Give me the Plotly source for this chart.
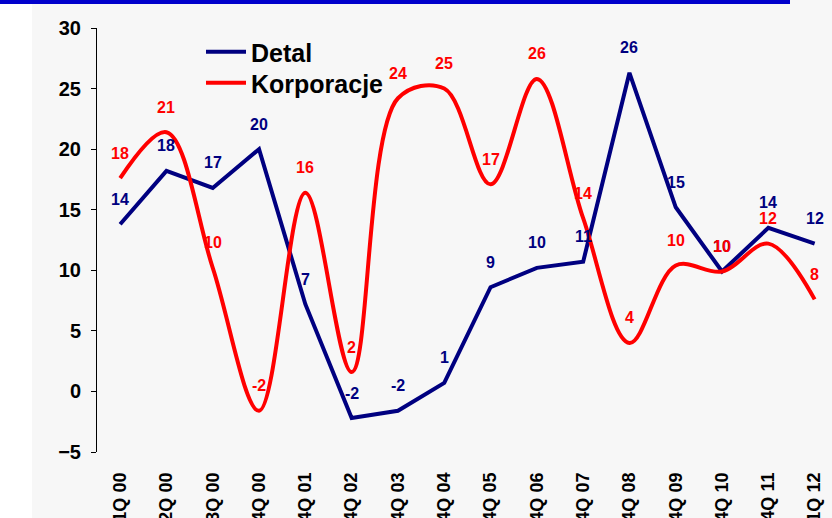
import plotly.graph_objects as go

# Quarterly growth, Detal vs Korporacje (%)
quarters = ["1Q 00", "2Q 00", "3Q 00", "4Q 00", "4Q 01", "4Q 02", "4Q 03", "4Q 04",
            "4Q 05", "4Q 06", "4Q 07", "4Q 08", "4Q 09", "4Q 10", "4Q 11", "1Q 12"]
detal = [13.8, 18.2, 16.8, 20.0, 7.2, -2.2, -1.6, 0.7,
         8.6, 10.2, 10.7, 26.3, 15.2, 9.9, 13.5, 12.2]
korporacje = [17.6, 21.4, 10.2, -1.6, 16.4, 1.6, 24.2, 25.0,
              17.1, 25.8, 14.3, 4.0, 10.4, 9.9, 12.2, 7.6]
y_ticks = [-5, 0, 5, 10, 15, 20, 25, 30]

NAVY = "#000080"
RED = "#ff0000"
BG = "#f7f7f7"
FONT = "Arial, Liberation Sans, sans-serif"

W, H = 832, 518
ML, MR, MT, MB = 97, 0, 28, 66
PW, PH = W - ML - MR, H - MT - MB

fig = go.Figure()
fig.add_trace(go.Scatter(x=quarters, y=detal, name="Detal", mode="lines",
                         legend="legend",
                         line=dict(color=NAVY, width=4)))
fig.add_trace(go.Scatter(x=quarters, y=korporacje, name="Korporacje", mode="lines",
                         legend="legend2",
                         line=dict(color=RED, width=4, shape="spline", smoothing=1.0)))

# value labels above each point
annotations = []
for series, color in ((detal, NAVY), (korporacje, RED)):
    for q, v in zip(quarters, series):
        annotations.append(dict(x=q, y=v, xref="x", yref="y", text=f"{v:.0f}",
                                showarrow=False, yshift=25,
                                font=dict(family=FONT, size=16, color=color, weight="bold")))


def px_x(px):
    return (px - ML) / PW


def px_y(py):
    return 1 - (py - MT) / PH


shapes = [
    # white strip on the left
    dict(type="rect", xref="paper", yref="paper", x0=px_x(-2), x1=px_x(32),
         y0=px_y(H + 2), y1=px_y(-2), fillcolor="white", line_width=0, layer="below"),
    # blue bar along the top
    dict(type="rect", xref="paper", yref="paper", x0=px_x(0), x1=px_x(790),
         y0=px_y(4), y1=px_y(-1), fillcolor="#0000cc", line_width=0, layer="above"),
]

zero_pos = (0 - y_ticks[0]) / (y_ticks[-1] - y_ticks[0])

legend_style = dict(xanchor="left", yanchor="middle", bgcolor="rgba(0,0,0,0)",
                    itemwidth=40,
                    font=dict(family=FONT, size=25, color="black", weight="bold"))

fig.update_layout(
    width=W, height=H,
    margin=dict(l=ML, r=MR, t=MT, b=MB, pad=0, autoexpand=False),
    paper_bgcolor=BG, plot_bgcolor=BG,
    font=dict(family=FONT, color="black"),
    showlegend=True,
    legend=dict(x=px_x(201), y=px_y(52), **legend_style),
    legend2=dict(x=px_x(201), y=px_y(83), **legend_style),
    annotations=annotations,
    shapes=shapes,
    xaxis=dict(range=[-0.5, -0.5 + PW / 46.3], showline=False, showgrid=False,
               zeroline=False, ticks="", tickangle=-90, ticklabelstandoff=16,
               automargin=False,
               tickfont=dict(family=FONT, size=18, color="black", weight="bold")),
    xaxis2=dict(matches="x", overlaying="x", anchor="free", position=zero_pos,
                showline=True, linecolor="black", linewidth=1, showgrid=False,
                zeroline=False, ticks="outside", ticklen=6, tickcolor="black",
                tickwidth=1, tickson="boundaries", showticklabels=False,
                automargin=False,
                type="category", categoryarray=quarters),
    yaxis=dict(range=[y_ticks[0], y_ticks[-1]], tickvals=y_ticks, showgrid=False,
               zeroline=False, showline=True, linecolor="black", linewidth=1,
               ticks="outside", ticklen=5, tickcolor="black", ticklabelstandoff=6,
               automargin=False,
               tickfont=dict(family=FONT, size=20, color="black", weight="bold")),
)

fig.write_html("out.html")
